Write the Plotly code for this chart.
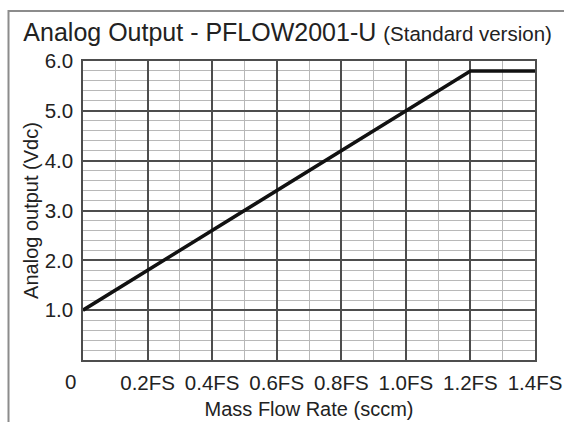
import plotly.graph_objects as go

# Data
flow_fs = [0.0, 1.2, 1.4]
output_v = [1.0, 5.8, 5.8]

x_tick_vals = [0.2, 0.4, 0.6, 0.8, 1.0, 1.2, 1.4]
x_tick_text = ["0.2FS", "0.4FS", "0.6FS", "0.8FS", "1.0FS", "1.2FS", "1.4FS"]
zero_label = "0"
y_tick_vals = [1, 2, 3, 4, 5, 6]
y_tick_text = ["1.0", "2.0", "3.0", "4.0", "5.0", "6.0"]

W, H = 564, 422
L, R, T, B = 83, 29, 61, 62
pw, ph = W - L - R, H - T - B

FONT = "Liberation Sans, Arial, sans-serif"
MAJOR = "#4d4d4d"
MINOR = "#b8b8b8"
TXT = "#222222"

fig = go.Figure()
fig.add_trace(go.Scatter(
    x=flow_fs, y=output_v, mode="lines",
    line=dict(color="#111111", width=3.5),
    showlegend=False, hoverinfo="skip"))

fig.update_layout(
    width=W, height=H,
    margin=dict(l=L, r=R, t=T, b=B, pad=0, autoexpand=False),
    paper_bgcolor="white", plot_bgcolor="white",
    font=dict(family=FONT, color=TXT),
    title=dict(
        text="Analog Output - PFLOW2001-U <span style='font-size:20.5px'>(Standard version)</span>",
        font=dict(size=25, family=FONT, color=TXT),
        x=0.51, xanchor="center", xref="container",
        y=1 - 32 / H, yanchor="middle", yref="container", automargin=False),
    xaxis=dict(
        range=[0, 1.4], tickmode="array", tickvals=x_tick_vals, ticktext=x_tick_text,
        tickfont=dict(size=20.5, family=FONT, color=TXT),
        ticks="outside", ticklen=4, tickcolor="rgba(0,0,0,0)",
        showgrid=True, gridcolor=MAJOR, gridwidth=1.5,
        minor=dict(dtick=0.1, tick0=0, showgrid=True, gridcolor=MINOR, gridwidth=1, ticks=""),
        showline=True, linecolor=MAJOR, linewidth=1.5, mirror=True,
        zeroline=False, automargin=False,
        title=dict(text="Mass Flow Rate (sccm)", font=dict(size=20, family=FONT, color=TXT), standoff=9),
    ),
    yaxis=dict(
        range=[0, 6], tickmode="array", tickvals=y_tick_vals, ticktext=y_tick_text,
        tickfont=dict(size=20.5, family=FONT, color=TXT),
        ticks="outside", ticklen=4, tickcolor="rgba(0,0,0,0)",
        showgrid=True, gridcolor=MAJOR, gridwidth=1.5,
        minor=dict(dtick=0.2, tick0=0, showgrid=True, gridcolor=MINOR, gridwidth=1, ticks=""),
        showline=True, linecolor=MAJOR, linewidth=1.5, mirror=True,
        zeroline=False, automargin=False,
        title=dict(text="Analog output (Vdc)", font=dict(size=20, family=FONT, color=TXT), standoff=1),
    ),
)

# Zero label (offset to the left of the origin as in the reference)
fig.add_annotation(
    x=0, y=0, xref="x", yref="y", text=zero_label, showarrow=False,
    xshift=-13, yshift=-21, font=dict(size=20.5, family=FONT, color=TXT))

# Outer frame of the figure
fig.add_shape(
    type="rect", xref="paper", yref="paper",
    x0=(8.5 - L) / pw, x1=(572 - L) / pw,
    y0=(ph + T - 430) / ph, y1=(ph + T - 11) / ph,
    line=dict(color="#8c8c8c", width=2), fillcolor="rgba(0,0,0,0)", layer="below")

fig.write_html("out.html", config={"displayModeBar": False},
               post_script="document.body.style.margin='0';document.body.style.padding='0';")
